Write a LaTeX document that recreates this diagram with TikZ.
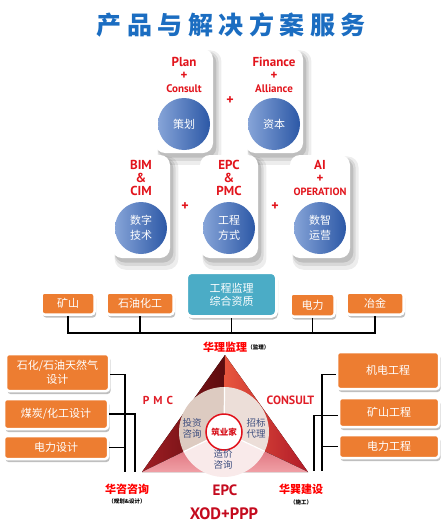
\documentclass[tikz,border=0pt]{standalone}
\usepackage{fontspec}
\setmainfont{Noto Sans CJK SC}
\newfontfamily\latf{PT Sans}
\usetikzlibrary{shadows,calc}
\definecolor{cardred}{HTML}{E2141C}
\definecolor{orng}{HTML}{ED7D31}
\definecolor{tealc}{HTML}{4BACC6}
\definecolor{ttl}{HTML}{1B6DC1}
\definecolor{ringtxt}{HTML}{3F4F80}
\definecolor{bluel}{HTML}{86A4D8}
\definecolor{blued}{HTML}{2C58A6}
\definecolor{epcred}{HTML}{C40A1E}
\newcommand{\pl}{{\fontsize{13}{13}\selectfont +}}
\newcommand{\smt}[1]{{\fontsize{11}{13}\selectfont #1}}
\tikzset{
  softshadow/.style={
    general shadow={shadow xshift=5pt,shadow yshift=-6pt,opacity=.07,fill=black,shadow scale=1.10},
    general shadow={shadow xshift=4pt,shadow yshift=-5pt,opacity=.09,fill=black,shadow scale=1.05},
    general shadow={shadow xshift=3pt,shadow yshift=-4pt,opacity=.12,fill=black,shadow scale=1.01}},
  boxshadow/.style={general shadow={shadow xshift=1.5pt,shadow yshift=-3pt,opacity=.25,fill=black}},
  card/.style={fill=white,rounded corners=10pt,minimum width=58pt,minimum height=104pt,inner sep=0,softshadow},
  bluec/.style={circle,minimum size=52pt,inner sep=0,left color=bluel,right color=blued,text=white,align=center,font=\fontsize{11}{15}\selectfont},
  lbl/.style={text=cardred,align=center,font=\latf\bfseries\fontsize{13}{13}\selectfont,inner sep=0},
  plusl/.style={text=cardred,font=\latf\bfseries\fontsize{14}{14}\selectfont,inner sep=0},
  obox/.style={fill=orng,draw=white,line width=2.5pt,rounded corners=3pt,text=white,align=center,inner sep=0,font=\fontsize{11}{14}\selectfont,boxshadow},
  conn/.style={draw=black,line width=1.6pt},
  ringlbl/.style={text=ringtxt,align=center,font=\fontsize{9.5}{11}\selectfont,inner sep=0},
  vlbl/.style={text=red,font=\bfseries\fontsize{11}{12}\selectfont,inner sep=0},
  vsub/.style={text=black,font=\bfseries\fontsize{5.5}{6}\selectfont,inner sep=0},
}
\begin{document}
\begin{tikzpicture}[x=1pt,y=-1pt]
\useasboundingbox (0,0) rectangle (445,530);
% title
\node[text=ttl,font=\bfseries\fontsize{25}{25}\selectfont,inner sep=0] (title) at (231,25)
 {产\hspace{5.5pt}品\hspace{5.5pt}与\hspace{5.5pt}解\hspace{5.5pt}决\hspace{5.5pt}方\hspace{5.5pt}案\hspace{5.5pt}服\hspace{5.5pt}务};
% cards
\node[card] (k1) at (184,101) {};
\node[card] (k2) at (274,101) {};
\node[card,minimum height=103pt] (k3) at (141,206.5) {};
\node[card,minimum height=103pt] (k4) at (229,206.5) {};
\node[card,minimum height=103pt,minimum width=60pt] (k5) at (320,206.5) {};
% card labels
\node[lbl] (k1t) at (184,74.5) {Plan\\\pl\\\smt{Consult}};
\node[lbl] (k2t) at (274,74.5) {Finance\\\pl\\\smt{Alliance}};
\node[lbl] (k3t) at (141,178) {BIM\\\&\\CIM};
\node[lbl] (k4t) at (229,178) {EPC\\\&\\PMC};
\node[lbl] (k5t) at (320,178) {AI\\\pl\\{\fontsize{10.5}{13}\selectfont OPERATION}};
% circles
\node[bluec] (c1) at (184,124) {策划};
\node[bluec] (c2) at (274,124) {资本};
\node[bluec] (c3) at (141,228) {数字\\技术};
\node[bluec] (c4) at (229,228) {工程\\方式};
\node[bluec] (c5) at (320,228) {数智\\运营};
% pluses between cards
\node[plusl] (p1) at (230,101) {+};
\node[plusl] (p2) at (185,207) {+};
\node[plusl] (p3) at (275,207) {+};
% row of boxes
\node[obox,minimum width=53pt,minimum height=22pt] (b1) at (68,303.5) {矿山};
\node[obox,minimum width=67pt,minimum height=22pt] (b2) at (140,303.5) {石油化工};
\node[obox,fill=tealc,line width=3pt,rounded corners=5pt,minimum width=90pt,minimum height=44pt,font=\fontsize{11}{13}\selectfont] (b3) at (231.5,294.5) {工程监理\\综合资质};
\node[obox,minimum width=44pt,minimum height=23pt] (b4) at (312.5,305) {电力};
\node[obox,minimum width=57pt,minimum height=22pt] (b5) at (375,303.5) {冶金};
\coordinate (bus) at (0,333);
\draw[conn] (b1.south) -- (b1.south |- bus);
\draw[conn] (b2.south) -- (b2.south |- bus);
\draw[conn] (b3.south) -- (b3.south |- bus);
\draw[conn] (b4.south) -- (b4.south |- bus);
\draw[conn] (b5.south) -- (b5.south |- bus);
\draw[conn] ([xshift=-0.8pt]b1.south |- bus) -- ([xshift=0.8pt]b5.south |- bus);
% left boxes
\node[obox,minimum width=103pt,minimum height=37pt] (l1) at (57.5,372.5) {石化/石油天然气\\设计};
\node[obox,minimum width=104pt,minimum height=30pt] (l2) at (56,414) {煤炭/化工设计};
\node[obox,minimum width=104pt,minimum height=23pt] (l3) at (56,447.5) {电力设计};
\coordinate (lv1) at (125,472);
\coordinate (lv2) at (135,472);
\draw[conn] ([yshift=-2pt]l1.east) -| (lv1);
\draw[conn] (l3.east) -- (l3.east -| lv1);
\draw[conn] (l2.east) -| (lv2);
% right boxes
\node[obox,minimum width=102pt,minimum height=37pt] (r1) at (388,370.5) {机电工程};
\node[obox,minimum width=100pt,minimum height=29pt] (r2) at (389,412.5) {矿山工程};
\node[obox,minimum width=100pt,minimum height=23pt] (r3) at (389,446.5) {电力工程};
\coordinate (rv1) at (322,471);
\coordinate (rv2) at (314,471);
\draw[conn] ([yshift=-4pt]r1.west) -| (rv1);
\draw[conn] (r3.west) -- (r3.west -| rv1);
\draw[conn] ([yshift=-3pt]r2.west) -| (rv2);
% triangle
\coordinate (A) at (225,355);
\coordinate (BL) at (142,472);
\coordinate (BR) at (308,472);
\coordinate (C) at (224,432);
\fill[left color={rgb,255:red,160;green,30;blue,36},right color={rgb,255:red,92;green,12;blue,14}] (A) -- (BL) -- (C) -- cycle;
\fill[left color={rgb,255:red,232;green,86;blue,62},right color={rgb,255:red,176;green,26;blue,40}] (A) -- (C) -- (BR) -- cycle;
\fill[top color={rgb,255:red,212;green,84;blue,98},bottom color={rgb,255:red,240;green,160;blue,166}] (BL) -- (BR) -- (C) -- cycle;
% ring sectors
\fill[fill={rgb,255:red,221;green,203;blue,193}] (C) -- ++(154:45) arc[start angle=154,end angle=270,radius=45] -- cycle;
\fill[fill={rgb,255:red,236;green,222;blue,216}] (C) -- ++(-90:45) arc[start angle=-90,end angle=26,radius=45] -- cycle;
\fill[fill={rgb,255:red,249;green,234;blue,234}] (C) -- ++(26:45) arc[start angle=26,end angle=154,radius=45] -- cycle;
\draw[white,line width=1.2pt] ($(C)!18pt!(A)$) -- ($(C)!45pt!(A)$);
\draw[white,line width=1.2pt] ($(C)!18pt!(BL)$) -- ($(C)!45pt!(BL)$);
\draw[white,line width=1.2pt] ($(C)!18pt!(BR)$) -- ($(C)!45pt!(BR)$);
\node[circle,fill=white,draw={rgb,255:red,225;green,16;blue,26},line width=1.5pt,minimum size=36pt,inner sep=0,text={rgb,255:red,215;green,16;blue,26},font=\bfseries\fontsize{8.5}{9}\selectfont] (core) at (C) {筑业家};
\node[ringlbl] (s1) at (192,428) {投资\\咨询};
\node[ringlbl] (s2) at (256,428) {招标\\代理};
\node[ringlbl] (s3) at (223,459) {造价\\咨询};
% vertex labels
\node[vlbl] (vA) at (225,347) {华理监理};
\node[vsub,anchor=west] (vAs) at (vA.east) {（监理）};
\node[vlbl] (vL) at (127,489) {华咨咨询};
\node[vsub] (vLs) at (127,501) {（规划\&设计）};
\node[vlbl] (vR) at (301,489) {华巽建设};
\node[vsub] (vRs) at (301,502) {（施工）};
\node[text={rgb,255:red,224;green,30;blue,40},font=\latf\bfseries\fontsize{11.5}{12}\selectfont,inner sep=0] (pmc) at (158,400) {P\hspace{4pt}M\hspace{4pt}C};
\node[text={rgb,255:red,224;green,30;blue,40},font=\latf\bfseries\fontsize{12}{12}\selectfont,inner sep=0] (cons) at (290.5,400) {CONSULT};
\node[text=epcred,font=\latf\bfseries\fontsize{15}{15}\selectfont,inner sep=0] (epc) at (225,490) {EPC};
\node[text=epcred,font=\latf\bfseries\fontsize{16.5}{16}\selectfont,inner sep=0] (xod) at (224,514) {XOD+PPP};
\end{tikzpicture}
\end{document}
